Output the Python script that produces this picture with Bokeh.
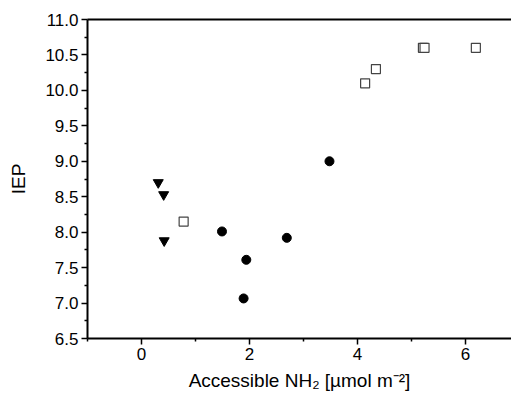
from bokeh.plotting import figure
from bokeh.models import LinearAxis, FixedTicker, Range1d, NumeralTickFormatter
from bokeh.embed import file_html
from bokeh.resources import INLINE

# Data
tri_x = [0.31, 0.41, 0.42]
tri_y = [8.70, 8.53, 7.88]
sq_x = [0.78, 4.14, 4.34, 5.21, 5.24, 6.19]
sq_y = [8.15, 10.10, 10.30, 10.60, 10.60, 10.60]
circ_x = [1.49, 1.89, 1.94, 2.69, 3.48]
circ_y = [8.01, 7.065, 7.61, 7.92, 9.00]

x_ticks = [0, 2, 4, 6]
y_ticks = [6.5, 7.0, 7.5, 8.0, 8.5, 9.0, 9.5, 10.0, 10.5, 11.0]

FONT = "Liberation Sans"

p = figure(width=511, height=404, output_backend="svg", toolbar_location=None,
           x_range=Range1d(-1, 6.85), y_range=Range1d(6.5, 11.0),
           min_border_left=87, min_border_right=0, min_border_top=19, min_border_bottom=66)
p.outline_line_color = None
p.xgrid.visible = False
p.ygrid.visible = False
p.background_fill_color = "white"
p.border_fill_color = "white"

p.scatter(tri_x, tri_y, marker="inverted_triangle", size=10, fill_color="black", line_color="black")
p.scatter(sq_x, sq_y, marker="square", size=9, fill_color="white", line_color="#444444", line_width=1.2)
p.scatter(circ_x, circ_y, marker="circle", size=9, fill_color="black", line_color="black")

for ax in (p.xaxis[0], p.yaxis[0]):
    ax.axis_line_width = 2
    ax.major_tick_line_width = 1.5
    ax.minor_tick_line_width = 1.5
    ax.major_tick_in = 0
    ax.major_tick_out = 6
    ax.minor_tick_in = 0
    ax.minor_tick_out = 3
    ax.major_label_text_font = FONT
    ax.major_label_text_font_size = "17px"
    ax.major_label_text_color = "black"
    ax.axis_label_text_font = FONT
    ax.axis_label_text_font_size = "19px"
    ax.axis_label_text_font_style = "normal"
    ax.axis_label_text_color = "black"

p.xaxis[0].ticker = FixedTicker(ticks=x_ticks, minor_ticks=[-1, 1, 3, 5])
p.yaxis[0].ticker = FixedTicker(ticks=y_ticks, minor_ticks=[6.75 + 0.5 * i for i in range(9)])
p.yaxis[0].formatter = NumeralTickFormatter(format="0.0")
p.xaxis[0].axis_label = "Accessible NH\u2082 [\u00b5mol m\u207b\u00b2]"
p.yaxis[0].axis_label = "IEP"
p.xaxis[0].major_label_standoff = 3
p.yaxis[0].major_label_standoff = 3
p.xaxis[0].axis_label_standoff = 7
p.yaxis[0].axis_label_standoff = 13

top = LinearAxis(ticker=FixedTicker(ticks=[]), axis_line_width=2,
                 major_tick_out=0, minor_tick_out=0, major_label_text_font_size="0px")
p.add_layout(top, "above")

open("out.html", "w").write(file_html(p, INLINE))
